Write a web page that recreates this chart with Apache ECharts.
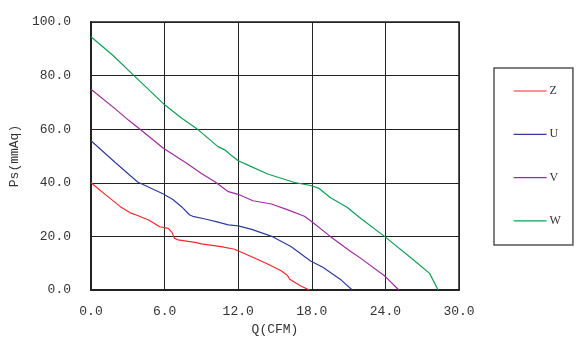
<!DOCTYPE html>
<html>
<head>
<meta charset="utf-8">
<script src="https://cdn.jsdelivr.net/npm/echarts@6/dist/echarts.min.js"></script>
<style>html,body{margin:0;padding:0;background:#fff}#c{width:585px;height:345px}</style>
</head>
<body>
<div id="c"></div>
<script>
var seriesNames = ['Z', 'U', 'V', 'W'];
var xTicks = [0, 6, 12, 18, 24, 30];
var yTicks = [0, 20, 40, 60, 80, 100];

var zQ  = [0, 1.2, 2.4, 3.2, 3.7, 4.7, 5.6, 6.3, 6.6, 6.8, 7.1, 8.6, 9.0, 10.6, 11.7, 13.1, 14.4, 15.5, 16.0, 16.2, 17.1, 17.8];
var zPs = [40, 35.5, 31.1, 28.8, 28.0, 26.1, 23.6, 23.0, 21.5, 19.3, 18.7, 17.7, 17.2, 16.2, 15.2, 12.4, 9.7, 7.2, 5.5, 4.0, 1.5, 0];

var uQ  = [0, 2.0, 3.8, 5.9, 6.7, 7.4, 8.05, 8.3, 9.4, 10.2, 11.2, 12.0, 13.1, 14.8, 16.3, 17.9, 18.9, 20.4, 21.3];
var uPs = [55.7, 47.5, 40.3, 35.8, 33.7, 31.0, 28.0, 27.5, 26.4, 25.5, 24.3, 23.9, 22.6, 19.9, 16.2, 10.8, 8.5, 3.7, 0];

var vQ  = [0, 2.0, 3.05, 4.0, 5.9, 7.8, 9.0, 10.1, 11.2, 12.0, 13.2, 14.7, 16.0, 17.4, 18.06, 19.5, 21.2, 22.0, 24.0, 25.1];
var vPs = [74.9, 67.5, 63.4, 60.0, 52.9, 47.3, 43.5, 40.4, 36.7, 35.7, 33.3, 32.1, 30.0, 27.5, 25.3, 20.0, 14.3, 11.8, 5.0, 0];

var wQ  = [0, 1.8, 3.46, 6.03, 7.4, 8.6, 10.35, 10.9, 11.4, 12.0, 12.8, 14.4, 16.6, 17.9, 18.6, 19.5, 20.9, 22.0, 23.9, 26.3, 27.6, 28.3];
var wPs = [94.5, 87.5, 80.2, 69.0, 64.1, 60.3, 53.5, 52.3, 50.4, 48.2, 46.6, 43.3, 40.1, 39.0, 37.9, 34.5, 30.8, 26.7, 20.1, 11.2, 6.2, 0];

var colors = ['#f5262e', '#2f3d9c', '#9c2d9e', '#0d9f55'];

function pairs(xs, ys) { return xs.map(function (x, i) { return [x, ys[i]]; }); }
var allData = [pairs(zQ, zPs), pairs(uQ, uPs), pairs(vQ, vPs), pairs(wQ, wPs)];

var mono = '"Liberation Mono", "DejaVu Sans Mono", monospace';
var chart = echarts.init(document.getElementById('c'), null, { renderer: 'canvas' });
chart.setOption({
  animation: false,
  backgroundColor: '#fff',
  color: colors,
  grid: { left: 89, right: 126, top: 22, bottom: 55, show: true, borderColor: '#222', borderWidth: 1.5, backgroundColor: 'transparent' },
  legend: {
    orient: 'vertical', left: 494, top: 68,
    padding: [17, 12, 18, 19],
    itemWidth: 33, itemHeight: 14, itemGap: 31.3,
    borderColor: '#555', borderWidth: 1.5,
    itemStyle: { opacity: 0 },
    lineStyle: { width: 1.2 },
    textStyle: { fontFamily: '"Liberation Serif", serif', fontSize: 12, color: '#333', padding: [0, 0, 0, -2] },
    data: seriesNames
  },
  xAxis: {
    type: 'value', min: xTicks[0], max: xTicks[xTicks.length - 1], interval: xTicks[1] - xTicks[0],
    name: 'Q(CFM)', nameLocation: 'middle', nameGap: 31,
    nameTextStyle: { fontFamily: mono, fontSize: 13, color: '#333' },
    axisLine: { lineStyle: { color: '#222', width: 2 } },
    axisTick: { show: false },
    axisLabel: { margin: 15, fontFamily: mono, fontSize: 13, color: '#333', formatter: function (v) { return v.toFixed(1); } },
    splitLine: { lineStyle: { color: '#222', width: 1 } }
  },
  yAxis: {
    type: 'value', min: yTicks[0], max: yTicks[yTicks.length - 1], interval: yTicks[1] - yTicks[0],
    name: 'Ps(mmAq)', nameLocation: 'middle', nameGap: 70, nameRotate: 90,
    nameTextStyle: { fontFamily: mono, fontSize: 13, color: '#333' },
    axisLine: { show: true, lineStyle: { color: '#222', width: 2 } },
    axisTick: { show: false },
    axisLabel: { margin: 20, fontFamily: mono, fontSize: 13, color: '#333', formatter: function (v) { return v.toFixed(1); } },
    splitLine: { lineStyle: { color: '#222', width: 1 } }
  },
  series: seriesNames.map(function (n, i) {
    return { name: n, type: 'line', data: allData[i], symbol: 'none', lineStyle: { width: 1.2, color: colors[i] }, itemStyle: { color: colors[i] } };
  })
});
</script>
</body>
</html>
